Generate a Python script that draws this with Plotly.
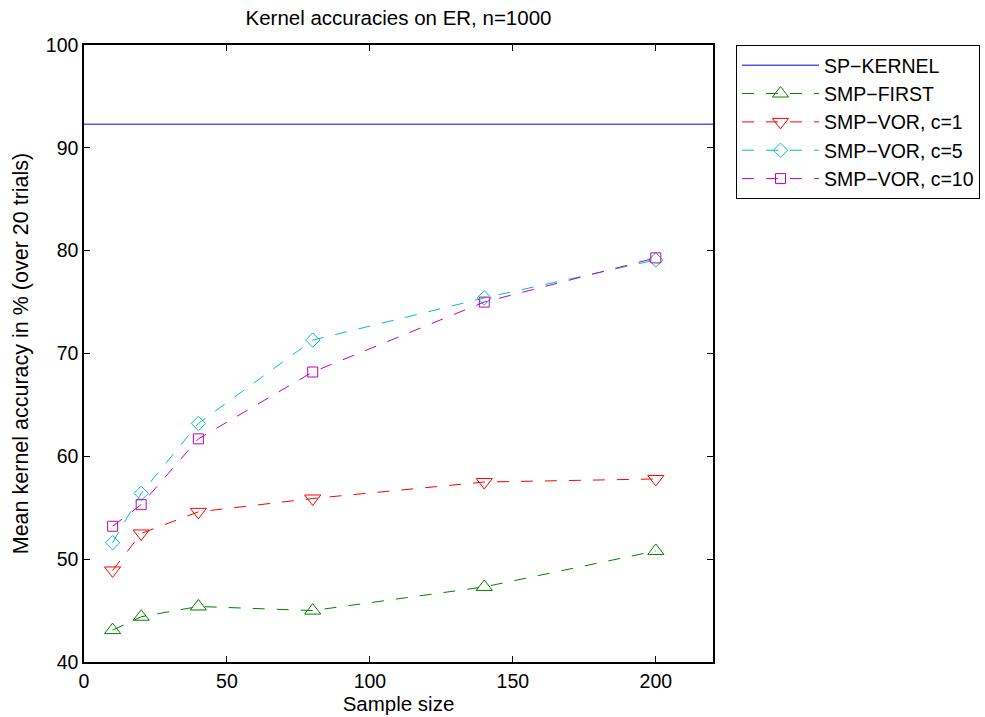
import plotly.graph_objects as go

# Sample sizes used in the experiment
sample_sizes = [10, 20, 40, 80, 140, 200]

# Mean accuracies (%) over 20 trials
sp_kernel = 92.3
smp_first = [43.1, 44.4, 45.4, 45.0, 47.3, 50.8]
smp_vor_c1 = [48.9, 52.5, 54.6, 55.9, 57.5, 57.8]
smp_vor_c5 = [51.6, 56.4, 63.2, 71.3, 75.4, 79.1]
smp_vor_c10 = [53.2, 55.3, 61.7, 68.2, 75.0, 79.3]

x_range = [0, 220]
y_range = [40, 100]

FONT = "Liberation Sans, Arial, Helvetica, sans-serif"
DASH = "12px,12px"

fig = go.Figure()

# Reference line: shortest-path kernel accuracy (constant)
fig.add_trace(go.Scatter(
    x=x_range, y=[sp_kernel, sp_kernel], mode="lines",
    name="SP\u2212KERNEL", line=dict(color="#0000ff", width=1),
))

series = [
    ("SMP\u2212FIRST", smp_first, "#008000", "triangle-up-open", 14),
    ("SMP\u2212VOR, c=1", smp_vor_c1, "#ff0000", "triangle-down-open", 14),
    ("SMP\u2212VOR, c=5", smp_vor_c5, "#00bfbf", "diamond-open", 11),
    ("SMP\u2212VOR, c=10", smp_vor_c10, "#bf00bf", "square-open", 10),
]
for name, vals, color, symbol, size in series:
    fig.add_trace(go.Scatter(
        x=sample_sizes, y=vals, mode="lines+markers", name=name,
        line=dict(color=color, width=1, dash=DASH),
        marker=dict(symbol=symbol, size=size, color=color,
                    line=dict(color=color, width=1)),
    ))

axis_common = dict(
    showgrid=False, zeroline=False, showline=True, linecolor="black",
    linewidth=1.5, mirror="ticks", ticks="inside", ticklen=6,
    tickcolor="black", tickwidth=1,
    tickfont=dict(family=FONT, size=19.5, color="black"),
)

fig.update_layout(
    width=985, height=717,
    margin=dict(l=84, r=272, t=45, b=55, autoexpand=False),
    paper_bgcolor="white", plot_bgcolor="white",
    font=dict(family=FONT, size=20, color="black"),
    title=dict(text="Kernel accuracies on ER, n=1000", x=(84 + 713) / 2 / 985,
               xanchor="center", y=1 - 18 / 717, yanchor="middle",
               yref="container", font=dict(family=FONT, size=20.5, color="black")),
    xaxis=dict(range=x_range, tickvals=[0, 50, 100, 150, 200],
               ticklabelstandoff=1,
               title=dict(text="Sample size", standoff=4,
                          font=dict(family=FONT, size=20.5, color="black")),
               **axis_common),
    yaxis=dict(range=y_range, tickvals=[40, 50, 60, 70, 80, 90, 100],
               title=dict(text="Mean kernel accuracy in % (over 20 trials)", standoff=11,
                          font=dict(family=FONT, size=21.5, color="black")),
               **axis_common),
    legend=dict(x=(736 - 84) / 629, y=1, xanchor="left", yanchor="top",
                bordercolor="black", borderwidth=1, bgcolor="white",
                font=dict(family=FONT, size=19.5, color="black"),
                itemwidth=77, tracegroupgap=0),
    showlegend=True,
)

fig.write_html("out.html")
